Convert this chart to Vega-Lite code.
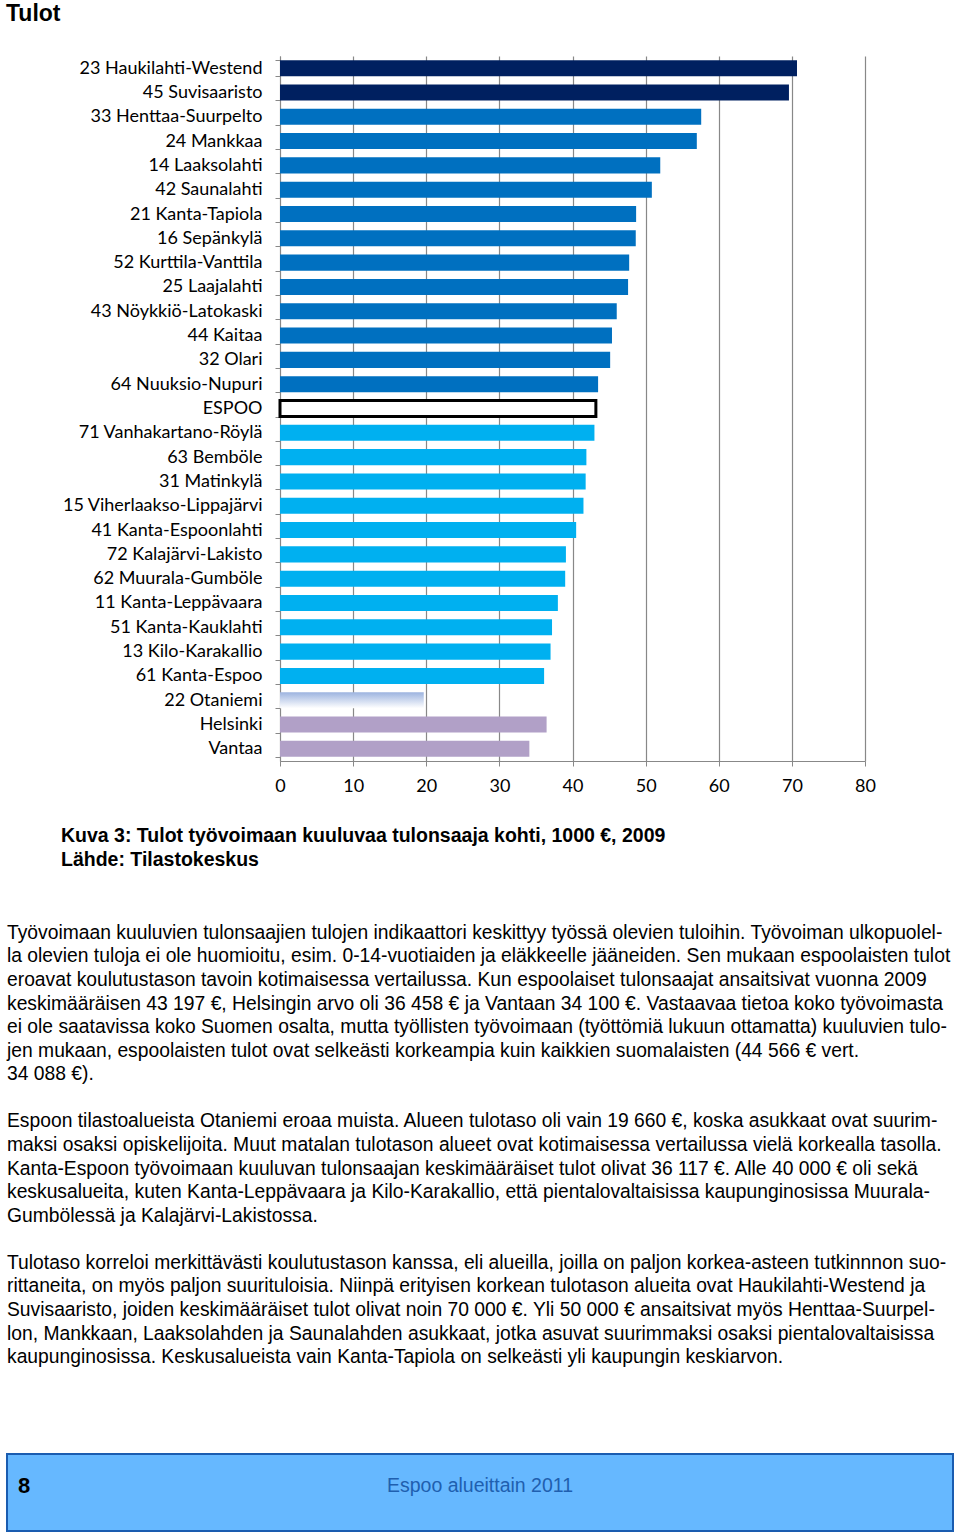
{
  "$schema": "https://vega.github.io/schema/vega-lite/v6.json",
  "background": "white",
  "padding": {"left": 6, "top": 3, "right": 4, "bottom": 2},
  "title": {"text": "Tulot", "anchor": "start", "frame": "bounds", "font": "Liberation Sans", "fontSize": 23, "fontWeight": "bold", "color": "#000000", "offset": 21},
  "config": {"view": {"stroke": null}},
  "spacing": 51,
  "datasets": {
    "bars": [
      {"name": "23 Haukilahti-Westend", "value": 70.7, "group": "dark"},
      {"name": "45 Suvisaaristo", "value": 69.6, "group": "dark"},
      {"name": "33 Henttaa-Suurpelto", "value": 57.6, "group": "mid"},
      {"name": "24 Mankkaa", "value": 57.0, "group": "mid"},
      {"name": "14 Laaksolahti", "value": 52.0, "group": "mid"},
      {"name": "42 Saunalahti", "value": 50.85, "group": "mid"},
      {"name": "21 Kanta-Tapiola", "value": 48.7, "group": "mid"},
      {"name": "16 Sepänkylä", "value": 48.65, "group": "mid"},
      {"name": "52 Kurttila-Vanttila", "value": 47.75, "group": "mid"},
      {"name": "25 Laajalahti", "value": 47.6, "group": "mid"},
      {"name": "43 Nöykkiö-Latokaski", "value": 46.05, "group": "mid"},
      {"name": "44 Kaitaa", "value": 45.4, "group": "mid"},
      {"name": "32 Olari", "value": 45.15, "group": "mid"},
      {"name": "64 Nuuksio-Nupuri", "value": 43.5, "group": "mid"},
      {"name": "ESPOO", "value": 43.197, "group": "espoo"},
      {"name": "71 Vanhakartano-Röylä", "value": 43.0, "group": "light"},
      {"name": "63 Bemböle", "value": 41.9, "group": "light"},
      {"name": "31 Matinkylä", "value": 41.8, "group": "light"},
      {"name": "15 Viherlaakso-Lippajärvi", "value": 41.5, "group": "light"},
      {"name": "41 Kanta-Espoonlahti", "value": 40.5, "group": "light"},
      {"name": "72 Kalajärvi-Lakisto", "value": 39.1, "group": "light"},
      {"name": "62 Muurala-Gumböle", "value": 39.0, "group": "light"},
      {"name": "11 Kanta-Leppävaara", "value": 38.0, "group": "light"},
      {"name": "51 Kanta-Kauklahti", "value": 37.2, "group": "light"},
      {"name": "13 Kilo-Karakallio", "value": 37.0, "group": "light"},
      {"name": "61 Kanta-Espoo", "value": 36.117, "group": "light"},
      {"name": "22 Otaniemi", "value": 19.66, "group": "otaniemi"},
      {"name": "Helsinki", "value": 36.458, "group": "ref"},
      {"name": "Vantaa", "value": 34.1, "group": "ref"}
    ],
    "body": [
      {"line": 0, "text": "Työvoimaan kuuluvien tulonsaajien tulojen indikaattori keskittyy työssä olevien tuloihin. Työvoiman ulkopuolel-"},
      {"line": 1, "text": "la olevien tuloja ei ole huomioitu, esim. 0-14-vuotiaiden ja eläkkeelle jääneiden. Sen mukaan espoolaisten tulot"},
      {"line": 2, "text": "eroavat koulutustason tavoin kotimaisessa vertailussa. Kun espoolaiset tulonsaajat ansaitsivat vuonna 2009"},
      {"line": 3, "text": "keskimääräisen 43 197 €, Helsingin arvo oli 36 458 € ja Vantaan 34 100 €. Vastaavaa tietoa koko työvoimasta"},
      {"line": 4, "text": "ei ole saatavissa koko Suomen osalta, mutta työllisten työvoimaan (työttömiä lukuun ottamatta) kuuluvien tulo-"},
      {"line": 5, "text": "jen mukaan, espoolaisten tulot ovat selkeästi korkeampia kuin kaikkien suomalaisten (44 566 € vert."},
      {"line": 6, "text": "34 088 €)."},
      {"line": 8, "text": "Espoon tilastoalueista Otaniemi eroaa muista. Alueen tulotaso oli vain 19 660 €, koska asukkaat ovat suurim-"},
      {"line": 9, "text": "maksi osaksi opiskelijoita. Muut matalan tulotason alueet ovat kotimaisessa vertailussa vielä korkealla tasolla."},
      {"line": 10, "text": "Kanta-Espoon työvoimaan kuuluvan tulonsaajan keskimääräiset tulot olivat 36 117 €. Alle 40 000 €  oli sekä"},
      {"line": 11, "text": "keskusalueita, kuten Kanta-Leppävaara ja Kilo-Karakallio, että pientalovaltaisissa kaupunginosissa Muurala-"},
      {"line": 12, "text": "Gumbölessä ja Kalajärvi-Lakistossa."},
      {"line": 14, "text": "Tulotaso korreloi merkittävästi koulutustason kanssa, eli alueilla, joilla on paljon korkea-asteen tutkinnnon suo-"},
      {"line": 15, "text": "rittaneita, on myös paljon suurituloisia. Niinpä erityisen korkean tulotason alueita ovat Haukilahti-Westend ja"},
      {"line": 16, "text": "Suvisaaristo, joiden keskimääräiset tulot olivat noin 70 000 €. Yli 50 000 €  ansaitsivat myös Henttaa-Suurpel-"},
      {"line": 17, "text": "lon, Mankkaan, Laaksolahden ja Saunalahden asukkaat, jotka asuvat suurimmaksi osaksi pientalovaltaisissa"},
      {"line": 18, "text": "kaupunginosissa. Keskusalueista vain Kanta-Tapiola on selkeästi yli kaupungin keskiarvon."}
    ],
    "footer": [
      {"role": "page", "text": "8"},
      {"role": "pub", "text": "Espoo alueittain 2011"}
    ]
  },
  "vconcat": [
    {
      "width": 860,
      "height": 705,
      "data": {"name": "bars"},
      "title": {
        "text": ["Kuva 3: Tulot työvoimaan kuuluvaa tulonsaaja kohti, 1000 €, 2009", "Lähde: Tilastokeskus"],
        "orient": "bottom", "anchor": "start", "frame": "group", "dx": 54, "offset": 32,
        "font": "Liberation Sans", "fontSize": 19.5, "fontWeight": "bold", "lineHeight": 24, "color": "#000000"
      },
      "encoding": {
        "y": {
          "field": "name", "type": "nominal",
          "scale": {"paddingInner": 0.34, "paddingOuter": 0.17, "domain": ["23 Haukilahti-Westend", "45 Suvisaaristo", "33 Henttaa-Suurpelto", "24 Mankkaa", "14 Laaksolahti", "42 Saunalahti", "21 Kanta-Tapiola", "16 Sepänkylä", "52 Kurttila-Vanttila", "25 Laajalahti", "43 Nöykkiö-Latokaski", "44 Kaitaa", "32 Olari", "64 Nuuksio-Nupuri", "ESPOO", "71 Vanhakartano-Röylä", "63 Bemböle", "31 Matinkylä", "15 Viherlaakso-Lippajärvi", "41 Kanta-Espoonlahti", "72 Kalajärvi-Lakisto", "62 Muurala-Gumböle", "11 Kanta-Leppävaara", "51 Kanta-Kauklahti", "13 Kilo-Karakallio", "61 Kanta-Espoo", "22 Otaniemi", "Helsinki", "Vantaa"]},
          "axis": {"title": null, "offset": -273, "labelFont": "Lato", "labelFontSize": 18, "labelColor": "#000000", "labelPadding": 13, "tickSize": 5, "tickBand": "extent", "tickColor": "#888888", "domainColor": "#888888", "labelLimit": 300}
        },
        "x": {
          "field": "value", "type": "quantitative",
          "scale": {"domain": [0, 80], "nice": false, "range": [273, 858]},
          "axis": {"title": null, "values": [0, 10, 20, 30, 40, 50, 60, 70, 80], "grid": true, "gridColor": "#888888", "gridWidth": 1.2, "labelFont": "Lato", "labelFontSize": 18, "labelColor": "#000000", "labelFlush": false, "tickSize": 5, "labelPadding": 11, "tickColor": "#888888", "domainColor": "#888888"}
        }
      },
      "layer": [
        {
          "transform": [{"filter": "datum.group != 'otaniemi' && datum.group != 'espoo'"}],
          "mark": {"type": "bar"},
          "encoding": {
            "color": {"field": "group", "type": "nominal", "legend": null,
              "scale": {"domain": ["dark", "mid", "light", "ref"], "range": ["#002060", "#0070C0", "#00B0F0", "#B1A0C7"]}}
          }
        },
        {
          "transform": [{"filter": "datum.group == 'espoo'"}],
          "mark": {"type": "bar", "fill": "#ffffff", "stroke": "#000000", "strokeWidth": 3}
        },
        {
          "transform": [{"filter": "datum.group == 'otaniemi'"}],
          "mark": {"type": "bar", "fill": {"gradient": "linear", "x1": 0, "y1": 0, "x2": 0, "y2": 1, "stops": [{"offset": 0, "color": "#9cb3df"}, {"offset": 1, "color": "#ffffff"}]}}
        }
      ]
    },
    {
      "width": 950,
      "height": 481,
      "data": {"name": "body"},
      "mark": {"type": "text", "align": "left", "baseline": "middle", "font": "Liberation Sans", "fontSize": 19.3, "color": "#000000"},
      "encoding": {
        "y": {"field": "line", "type": "quantitative", "scale": {"domain": [-0.5, 19.9], "reverse": true}, "axis": null},
        "x": {"value": 0},
        "text": {"field": "text"}
      }
    },
    {
      "width": 946,
      "height": 77,
      "data": {"name": "footer"},
      "view": {"fill": "#66B8FF", "stroke": "#1A5CB0", "strokeWidth": 2},
      "layer": [
        {
          "transform": [{"filter": "datum.role == 'page'"}],
          "mark": {"type": "text", "align": "left", "baseline": "middle", "font": "Liberation Sans", "fontSize": 22, "fontWeight": "bold", "color": "#000000", "dy": -7},
          "encoding": {"x": {"value": 11}, "text": {"field": "text"}}
        },
        {
          "transform": [{"filter": "datum.role == 'pub'"}],
          "mark": {"type": "text", "align": "center", "baseline": "middle", "font": "Liberation Sans", "fontSize": 19.5, "color": "#1F5FAF", "dy": -7},
          "encoding": {"text": {"field": "text"}}
        }
      ]
    }
  ]
}
